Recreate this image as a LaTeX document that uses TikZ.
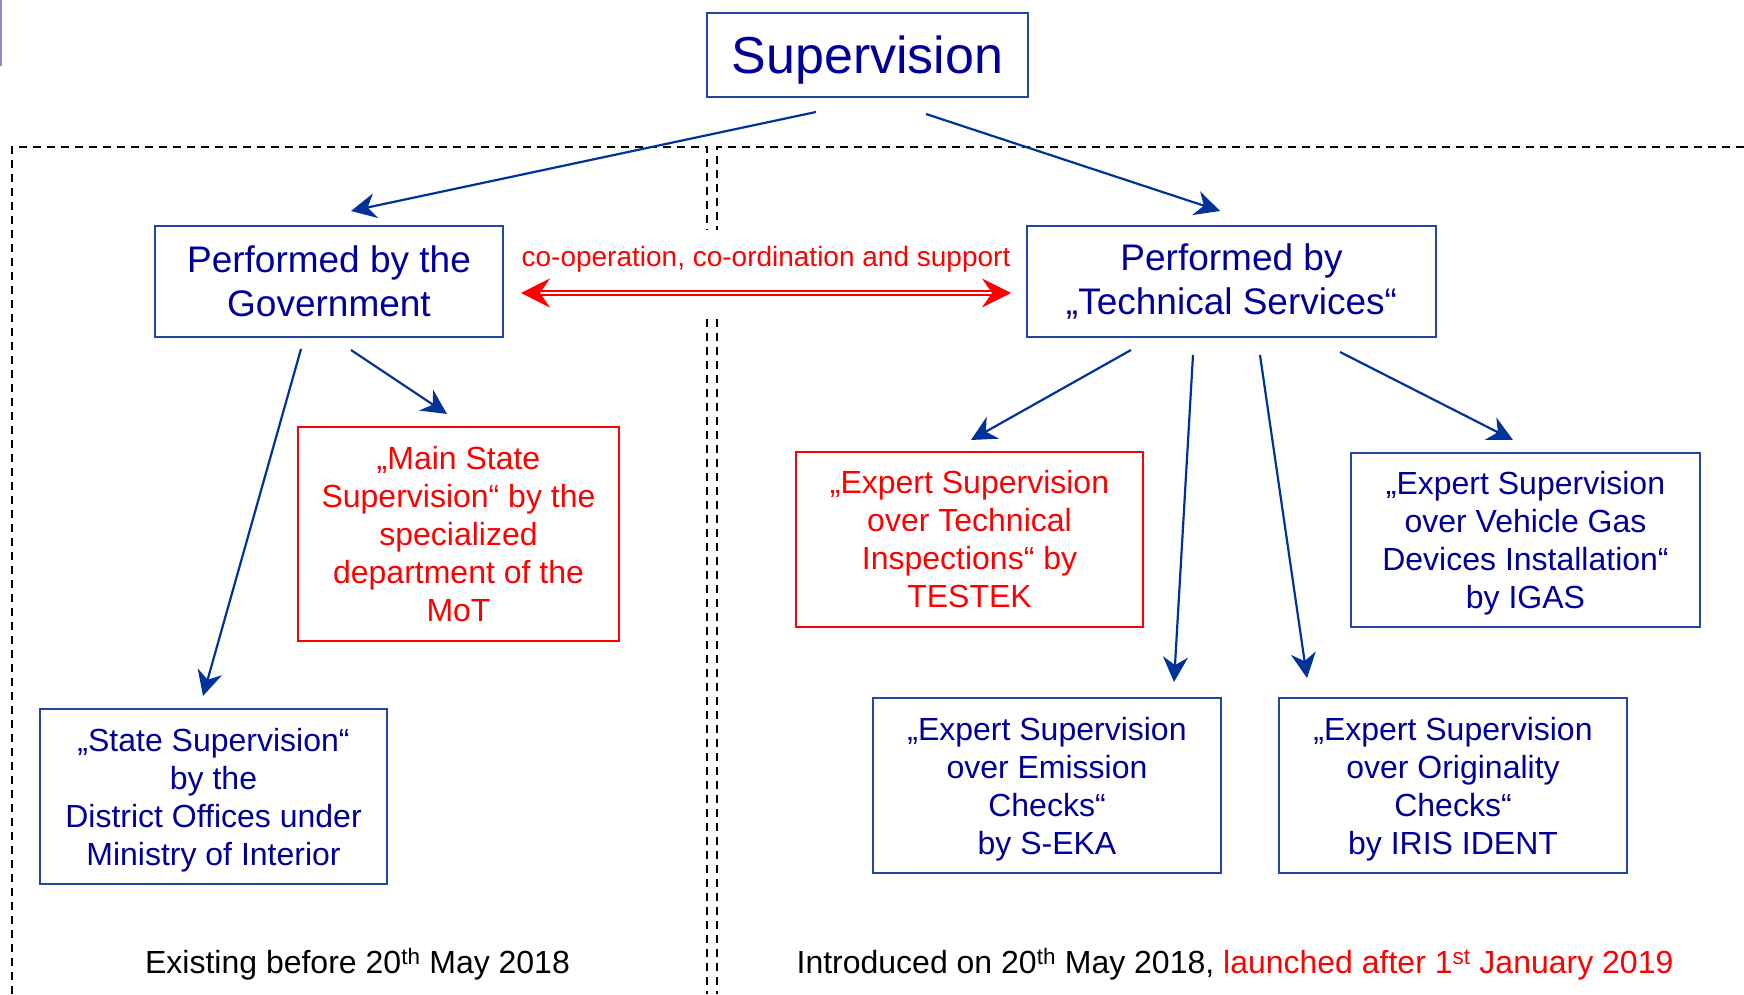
\documentclass[tikz,border=0pt]{standalone}
\usepackage{fontspec}
\setmainfont{Liberation Sans}
\usepackage{tikz}
\usetikzlibrary{arrows.meta}

\definecolor{supnavy}{RGB}{0,0,153}
\definecolor{supframe}{RGB}{32,72,160}
\definecolor{suparrow}{RGB}{0,51,153}
\definecolor{supred}{RGB}{255,0,0}
\definecolor{suppurple}{RGB}{140,140,200}

\newcommand{\firstline}{\rule{0pt}{30pt}}

\tikzset{
  bluebox/.style={draw=supframe, line width=2pt, text=supnavy, align=center, inner sep=0pt, font=\fontsize{32pt}{38pt}\selectfont},
  redbox/.style={bluebox, draw=supred, text=supred},
  headbox/.style={bluebox, font=\fontsize{37pt}{44pt}\selectfont},
  downarrow/.style={draw=suparrow, line width=2.2pt, -{Stealth[length=25pt,width=25pt,inset=8pt]}},
  border/.style={black, dash pattern=on 8pt off 6pt, line width=1.8pt},
  footnote/.style={font=\fontsize{32pt}{38pt}\selectfont, inner sep=0pt}
}

\begin{document}
\begin{tikzpicture}[x=1pt,y=1pt]
         \useasboundingbox (0,0) rectangle (1744,994);
         \draw[suppurple, line width=2pt] (1,994) -- (1,928);

         \draw[border] (12,0) -- (12,847) -- (707,847) -- (707,764) (707,675) -- (707,0);
         \draw[border] (1744,847) -- (717,847) -- (717,764) (717,675) -- (717,0);

         \node[bluebox, minimum width=321pt, minimum height=84pt, text height=47pt, text depth=10pt, font=\fontsize{52pt}{60pt}\selectfont] (sup) at (867.5,939) {Supervision};
         \node[headbox, minimum width=348pt, minimum height=111pt] (gov) at (329,712.5) {Performed by the\\Government};
         \node[headbox, minimum width=409pt, minimum height=111pt] (tech) at (1231.5,712.5) {Performed by\\„Technical Services“};

         \node[redbox, minimum width=321pt, minimum height=214pt] (mainstate) at (458.5,460) {„Main State\\Supervision“ by the\\specialized\\department of the\\MoT};
         \node[bluebox, minimum width=347pt, minimum height=175pt] (state) at (213.5,197.5) {\firstline„State Supervision“\\by the\\District Offices under\\Ministry of Interior};

         \node[redbox, minimum width=347pt, minimum height=175pt] (testek) at (969.5,454.5) {„Expert Supervision\\over Technical\\Inspections“ by\\TESTEK};
         \node[bluebox, minimum width=349pt, minimum height=174pt] (igas) at (1525.5,454) {\firstline„Expert Supervision\\over Vehicle Gas\\Devices Installation“\\by IGAS};
         \node[bluebox, minimum width=348pt, minimum height=175pt] (seka) at (1047,208.5) {\firstline„Expert Supervision\\over Emission\\Checks“\\by S-EKA};
         \node[bluebox, minimum width=348pt, minimum height=175pt] (iris) at (1453,208.5) {\firstline„Expert Supervision\\over Originality\\Checks“\\by IRIS IDENT};

         \draw[downarrow] ([xshift=-51.5pt,yshift=-14pt]sup.south) -- ([xshift=22pt,yshift=14pt]gov.north);
         \draw[downarrow] ([xshift=58.5pt,yshift=-16pt]sup.south) -- ([xshift=-11.5pt,yshift=14pt]tech.north);

         \draw[downarrow] ([xshift=-28pt,yshift=-11pt]gov.south) -- ([xshift=-10.5pt,yshift=12pt]state.north);
         \draw[downarrow] ([xshift=22pt,yshift=-12pt]gov.south) -- ([xshift=-11.5pt,yshift=12pt]mainstate.north);

         \draw[downarrow] ([xshift=-100.5pt,yshift=-12pt]tech.south) -- ([xshift=1.5pt,yshift=11pt]testek.north);
         \draw[downarrow] ([xshift=-38.5pt,yshift=-17pt]tech.south) -- ([xshift=127pt,yshift=15pt]seka.north);
         \draw[downarrow] ([xshift=28.5pt,yshift=-17pt]tech.south) -- ([xshift=-146pt,yshift=19pt]iris.north);
         \draw[downarrow] ([xshift=108.5pt,yshift=-14pt]tech.south) -- ([xshift=-12.5pt,yshift=12pt]igas.north);

         \draw[supred, line width=1.5pt, double=white, double distance=2.5pt, {Stealth[length=29pt,width=29pt,inset=10pt]}-{Stealth[length=29pt,width=29pt,inset=10pt]}] ([xshift=17pt,yshift=-11.5pt]gov.east) -- node[above=20pt, inner sep=0pt, font=\fontsize{28pt}{33pt}\selectfont] (coop) {co-operation, co-ordination and support} ([xshift=-15pt,yshift=-11.5pt]tech.west);

         \node[footnote] (before) at (357.5,30) {Existing before 20\textsuperscript{th} May 2018};
         \node[footnote] (after) at (1235,30) {Introduced on 20\textsuperscript{th} May 2018, \textcolor{supred}{launched after 1\textsuperscript{st} January 2019}};
    \end{tikzpicture}
\end{document}
